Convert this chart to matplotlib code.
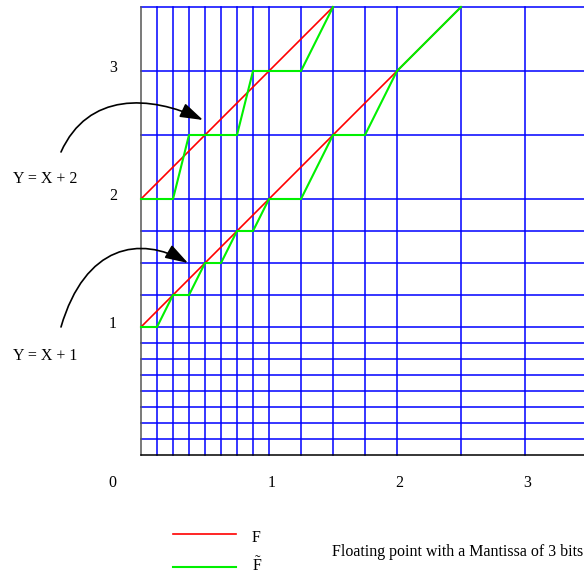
import numpy as np
import matplotlib.pyplot as plt
from matplotlib.patches import FancyArrowPatch
from matplotlib.path import Path

plt.rc('font', family='Liberation Serif', size=11.5)
plt.rc('mathtext', fontset='custom', rm='Liberation Serif', it='Liberation Serif:italic')

# representable values (3-bit mantissa) used for the grid
grid_vals = [0, 0.125, 0.25, 0.375, 0.5, 0.625, 0.75, 0.875,
             1, 1.25, 1.5, 1.75, 2, 2.5, 3, 3.5]

# exact F = X + 1 and F = X + 2
f1_x = [0, 2.5]
f1_y = [1, 3.5]
f2_x = [0, 1.5]
f2_y = [2, 3.5]

# rounded F~
g1_x = [0, 0.125, 0.25, 0.375, 0.5, 0.625, 0.75, 0.875, 1, 1.25, 1.5, 1.75, 2, 2.5]
g1_y = [1, 1, 1.25, 1.25, 1.5, 1.5, 1.75, 1.75, 2, 2, 2.5, 2.5, 3, 3.5]
g2_x = [0, 0.25, 0.375, 0.75, 0.875, 1.25, 1.5]
g2_y = [2, 2, 2.5, 2.5, 3, 3, 3.5]

tick_vals = [0, 1, 2, 3]

fig = plt.figure(figsize=(5.84, 5.76), dpi=100)
ax = fig.add_axes([0, 0, 1, 1])
ax.set_xlim(-141/128, 443/128)
ax.set_ylim(-121/128, 455/128)
ax.axis('off')

blue = '#0000ff'
red = '#ff0000'
green = '#00f000'
top = max(grid_vals)
right = 5
for v in grid_vals[1:]:
    ax.plot([v, v], [0, top], color=blue, lw=1.1, zorder=1)
    ax.plot([0, right], [v, v], color=blue, lw=1.1, zorder=1)
ax.plot([0, 0], [0, top], color='#555555', lw=1.1, zorder=2)
ax.plot([0, right], [0, 0], color='black', lw=1.1, zorder=2)

ax.plot(f1_x, f1_y, color=red, lw=1.2, zorder=3)
ax.plot(f2_x, f2_y, color=red, lw=1.2, zorder=3)
ax.plot(g1_x, g1_y, color=green, lw=1.5, zorder=4)
ax.plot(g2_x, g2_y, color=green, lw=1.5, zorder=4)

# axis numbers
for v in tick_vals[1:]:
    ax.text(v + 0.02, -0.22, str(v), ha='center', va='center')
    ax.text(-0.22, v + 0.02, str(v), ha='center', va='center')
ax.text(-0.22, -0.22, '0', ha='center', va='center')


def px(x, y):
    return ((x - 141) / 128, (455 - y) / 128)


def curved_arrow(pts):
    verts = [px(*p) for p in pts]
    path = Path(verts, [Path.MOVETO, Path.CURVE4, Path.CURVE4, Path.CURVE4])
    ax.add_patch(FancyArrowPatch(path=path, arrowstyle='-|>,head_length=14,head_width=4.5',
                                 color='black', lw=1.2, zorder=5))


curved_arrow([(61, 152), (88, 92), (150, 95), (203, 120)])
curved_arrow([(61, 327), (85, 245), (140, 235), (188, 263)])

ax.text(*px(45, 179), 'Y = X + 2', ha='center', va='center')
ax.text(*px(45, 356), 'Y = X + 1', ha='center', va='center')

# legend
ax.plot([px(173, 0)[0], px(236, 0)[0]], [px(0, 534)[1]] * 2, color=red, lw=1.2)
ax.plot([px(173, 0)[0], px(236, 0)[0]], [px(0, 567)[1]] * 2, color=green, lw=1.5)
ax.text(*px(252, 538), 'F', ha='left', va='center')
ax.text(*px(252, 566), r'$\tilde{\mathrm{F}}$', ha='left', va='center')
ax.text(*px(332, 552), 'Floating point with a Mantissa of 3 bits', ha='left', va='center')

fig.savefig('out.png', dpi=100)
